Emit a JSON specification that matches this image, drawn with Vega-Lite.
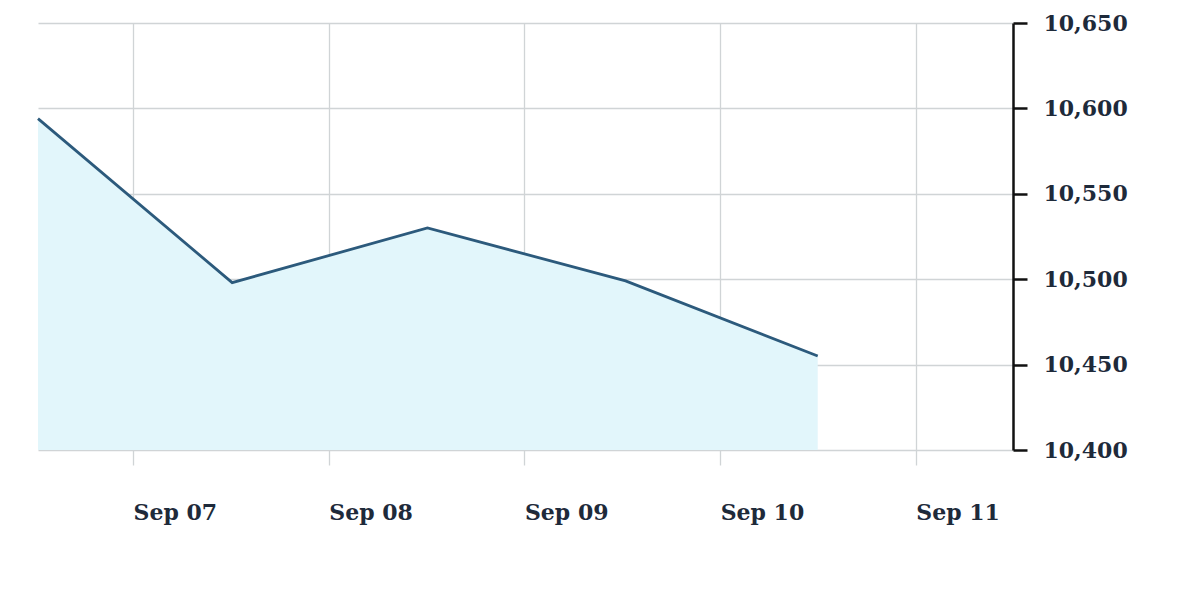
{
  "$schema": "https://vega.github.io/schema/vega-lite/v6.json",
  "autosize": "none",
  "padding": {"left": 38, "top": 23, "right": 187, "bottom": 139},
  "width": 975,
  "height": 427,
  "background": "white",
  "config": {"view": {"stroke": null}},
  "data": {
    "values": [
      {"date": "2023-09-06T12:20:00", "value": 10594},
      {"date": "2023-09-07T12:09:00", "value": 10498},
      {"date": "2023-09-08T12:06:00", "value": 10530},
      {"date": "2023-09-09T12:24:00", "value": 10499},
      {"date": "2023-09-10T11:58:00", "value": 10455}
    ]
  },
  "encoding": {
    "x": {
      "field": "date",
      "type": "temporal",
      "scale": {"domain": ["2023-09-06T12:20:00", "2023-09-11T11:55:00"], "nice": false},
      "axis": {
        "title": null,
        "orient": "bottom",
        "format": "%b %d",
        "tickCount": {"interval": "day", "step": 1},
        "grid": true,
        "gridColor": "#d0d4d6",
        "gridWidth": 1.3,
        "domain": false,
        "ticks": true,
        "tickColor": "#d0d4d6",
        "tickSize": 15,
        "tickWidth": 1.3,
        "labelAlign": "left",
        "labelBaseline": "top",
        "labelPadding": 37,
        "labelFont": "DejaVu Serif",
        "labelFontWeight": "bold",
        "labelFontSize": 22,
        "labelColor": "#1e2a3a"
      }
    },
    "y": {
      "field": "value",
      "type": "quantitative",
      "scale": {"domain": [10400, 10650], "zero": false, "nice": false},
      "axis": {
        "title": null,
        "orient": "right",
        "values": [10400, 10450, 10500, 10550, 10600, 10650],
        "format": ",d",
        "grid": true,
        "gridColor": "#d0d4d6",
        "gridWidth": 1.3,
        "domain": true,
        "domainColor": "#111111",
        "domainWidth": 2.5,
        "ticks": true,
        "tickColor": "#111111",
        "tickWidth": 2.5,
        "tickSize": 14,
        "labelPadding": 16,
        "labelFont": "DejaVu Serif",
        "labelFontWeight": "bold",
        "labelFontSize": 22,
        "labelColor": "#1e2a3a"
      }
    }
  },
  "layer": [
    {
      "mark": {"type": "area", "color": "#e2f6fb", "opacity": 1},
      "encoding": {"y2": {"datum": 10400}}
    },
    {"mark": {"type": "line", "color": "#2c5a7c", "strokeWidth": 2.8}}
  ]
}
